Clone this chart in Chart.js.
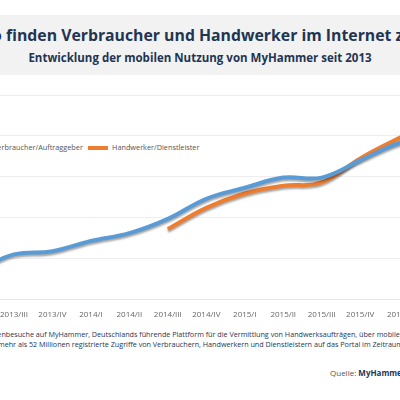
<!DOCTYPE html>
<html>
<head>
<meta charset="utf-8">
<script src="https://cdn.jsdelivr.net/npm/chart.js@4"></script>
<style>
  body { margin: 0; width: 400px; height: 400px; overflow: hidden; position: relative; background: #fff; font-family: "Open Sans", sans-serif; }
  .titlebox { position: absolute; left: 0; top: 15px; width: 400px; height: 60px; background: #f2f2f2; }
  .title { position: absolute; top: 24px; left: -26px; width: 520px; text-align: center; font-weight: bold; font-size: 15.8px; color: #1f3552; white-space: nowrap; }
  .sub { position: absolute; top: 50px; left: 0; width: 400px; text-align: center; font-weight: bold; font-size: 11.5px; color: #1f3552; white-space: nowrap; }
  .legend { position: absolute; top: 142px; font-size: 7.3px; color: #555; white-space: nowrap; }
  .legend span.l { display: inline-block; width: 20px; height: 4px; vertical-align: middle; margin-right: 4px; }
  .foot { position: absolute; font-size: 7.2px; color: #1f3552; white-space: nowrap; }
  .src { position: absolute; top: 367px; left: 330px; font-size: 8px; color: #555; white-space: nowrap; }
  #wrap { position: absolute; left: -83px; top: 85px; width: 536px; height: 238px; }
</style>
</head>
<body>
<div class="titlebox"></div>
<div class="title">So finden Verbraucher und Handwerker im Internet zueinander</div>
<div class="sub">Entwicklung der mobilen Nutzung von MyHammer seit 2013</div>
<div class="legend" style="left:-31px"><span class="l" style="background:#5b9bd5"></span>Verbraucher/Auftraggeber</div>
<div class="legend" style="left:88px"><span class="l" style="background:#ed7d31"></span>Handwerker/Dienstleister</div>
<div id="wrap"><canvas id="c"></canvas></div>
<div class="foot" style="top:329px; left:-15px">Seitenbesuche auf MyHammer, Deutschlands führende Plattform für die Vermittlung von Handwerksaufträgen, über mobile Endgeräte</div>
<div class="foot" style="top:339px; left:-2px">mehr als 52 Millionen registrierte Zugriffe von Verbrauchern, Handwerkern und Dienstleistern auf das Portal im Zeitraum von</div>
<div class="src">Quelle: <b style="color:#1f3552">MyHammer AG</b></div>
<script>
const quarters = ['2013/I', '2013/II', '2013/III', '2013/IV', '2014/I', '2014/II', '2014/III', '2014/IV',
  '2015/I', '2015/II', '2015/III', '2015/IV', '2016/I', '2016/II'];
const verbraucher = [0.45, 0.7, 1.1, 1.18, 1.43, 1.62, 1.97, 2.46, 2.73, 2.98, 2.98, 3.4, 3.82, 4.06];
const handwerker = [null, null, null, null, null, null, 1.72, 2.24, 2.59, 2.78, 2.86, 3.45, 3.94, 4.4];

// ombre grise sous les courbes
const shadowPlugin = {
  id: 'shadow',
  beforeDatasetDraw(chart) {
    chart.ctx.save();
    chart.ctx.shadowColor = 'rgba(0,0,0,0.35)';
    chart.ctx.shadowOffsetY = 2;
    chart.ctx.shadowBlur = 2;
  },
  afterDatasetDraw(chart) { chart.ctx.restore(); }
};

new Chart(document.getElementById('c'), {
  type: 'line',
  data: {
    labels: quarters,
    datasets: [
      { label: 'Verbraucher/Auftraggeber', data: verbraucher, borderColor: '#5b9bd5', borderWidth: 4, pointRadius: 0, tension: 0.4 },
      { label: 'Handwerker/Dienstleister', data: handwerker, borderColor: '#ed7d31', borderWidth: 4, pointRadius: 0, tension: 0.4 }
    ]
  },
  plugins: [shadowPlugin],
  options: {
    responsive: true,
    maintainAspectRatio: false,
    animation: false,
    layout: { padding: { left: 12, right: 12, top: 10 } },
    plugins: { legend: { display: false }, tooltip: { enabled: false } },
    scales: {
      x: {
        grid: { display: false },
        border: { color: '#e6e6e6' },
        ticks: { color: '#666', font: { size: 8, family: 'Open Sans' }, maxRotation: 0, autoSkip: false }
      },
      y: {
        min: 0, max: 5,
        border: { display: false },
        grid: { color: '#eeeeee' },
        ticks: { display: false, stepSize: 1 }
      }
    }
  }
});
</script>
</body>
</html>
